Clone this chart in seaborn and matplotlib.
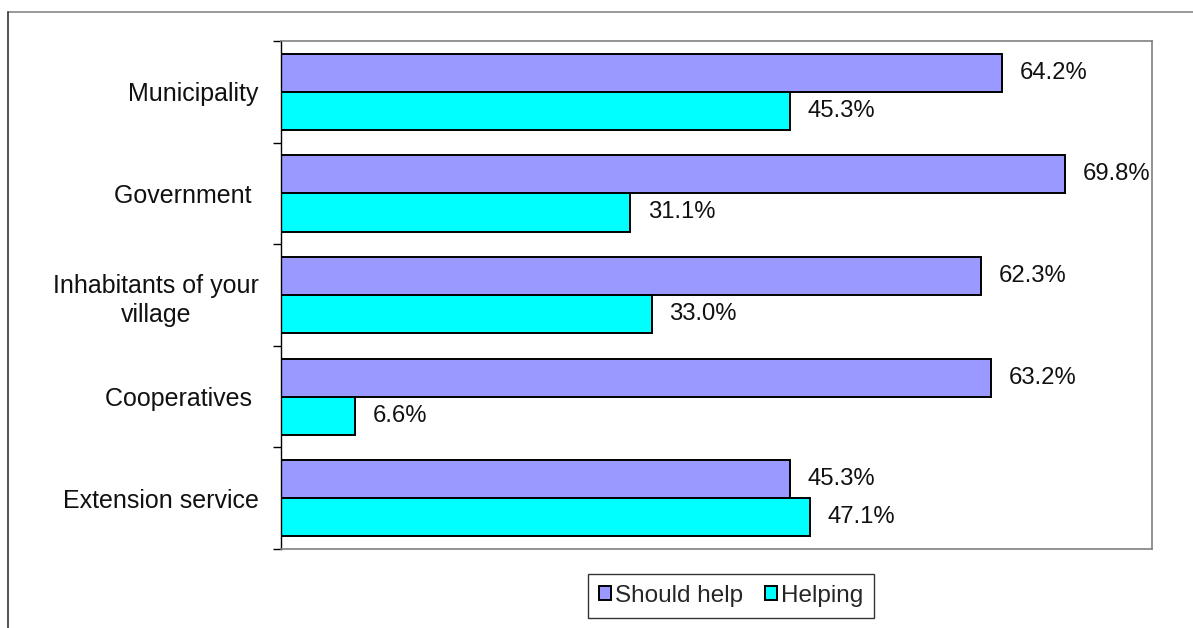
import matplotlib.pyplot as plt
import pandas as pd
import seaborn as sns
from matplotlib.lines import Line2D
from matplotlib.patches import Patch

categories = ["Municipality", "Government ", "Inhabitants of your\nvillage",
              "Cooperatives ", "Extension service"]
should_help = [64.2, 69.8, 62.3, 63.2, 45.3]
helping = [45.3, 31.1, 33.0, 6.6, 47.1]
series = ["Should help", "Helping"]
colors = ["#9999FF", "#00FFFF"]


def get_data() -> pd.DataFrame:
    rows = []
    for cat, a, b in zip(categories, should_help, helping):
        rows.append({"category": cat, "series": series[0], "value": a})
        rows.append({"category": cat, "series": series[1], "value": b})
    return pd.DataFrame(rows)


df = get_data()

sns.set_style("white")
plt.rcParams["font.family"] = ["Liberation Sans", "DejaVu Sans"]

fig = plt.figure(figsize=(11.93, 6.28), dpi=100)
ax = fig.add_axes([0.2355, 0.1258, 0.7301, 0.8089])

sns.barplot(
    data=df, y="category", x="value", hue="series",
    order=categories, hue_order=series, palette=colors,
    orient="h", width=0.75, edgecolor="black", linewidth=1.4,
    saturation=1, legend=False, ax=ax,
)

for cont in ax.containers:
    ax.bar_label(cont, labels=[f"{v:.1f}%" for v in cont.datavalues],
                 padding=12.5, fontsize=17.2, color="#111111")

ax.set_xlim(0, 77.5)
ax.set_ylim(4.5, -0.5)
ax.set_xlabel("")
ax.set_ylabel("")
ax.set_xticks([])
ax.set_yticks(range(len(categories)))
ax.set_yticklabels(categories, fontsize=18, multialignment="center",
                   color="#111111", linespacing=1.3)
ax.set_yticks([i - 0.5 for i in range(len(categories) + 1)], minor=True)
ax.tick_params(axis="y", which="major", length=0, pad=16)
ax.tick_params(axis="y", which="minor", length=6, width=1, color="black", left=True)

for side in ["top", "right", "bottom"]:
    ax.spines[side].set_color("#808080")
    ax.spines[side].set_linewidth(1.2)
ax.spines["left"].set_color("black")
ax.spines["left"].set_linewidth(1)

handles = [Patch(facecolor=c, edgecolor="black", linewidth=1.4) for c in colors]
leg = fig.legend(handles, series, loc="center", bbox_to_anchor=(731 / 1193, 1 - 596 / 628),
                 ncol=2, fontsize=17.5, frameon=True, fancybox=False,
                 handlelength=0.5, handleheight=0.5, handletextpad=0.15,
                 columnspacing=0.9, borderpad=0.45, edgecolor="black")
leg.get_frame().set_linewidth(1)

# outer chart-area border (top and left only visible)
fig.add_artist(Line2D([8 / 1193, 1], [1 - 12 / 628, 1 - 12 / 628],
                      color="#888888", linewidth=1.2, transform=fig.transFigure))
fig.add_artist(Line2D([8 / 1193, 8 / 1193], [0, 1 - 12 / 628],
                      color="#333333", linewidth=1.2, transform=fig.transFigure))

plt.savefig("out.png", dpi=100)
